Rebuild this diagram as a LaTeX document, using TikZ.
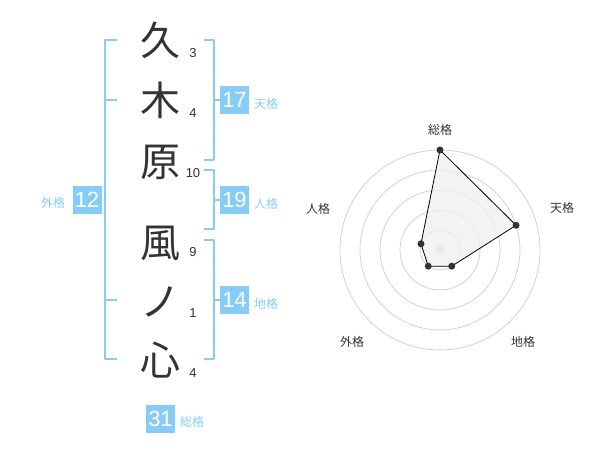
\documentclass[tikz,border=0pt]{standalone}
\usepackage{fontspec}
\setmainfont{Liberation Sans}
\newfontfamily\cjk{Noto Sans CJK JP}
\usetikzlibrary{calc}
\definecolor{c88ccf8}{rgb}{0.53,0.8,0.97}
\definecolor{c333333}{rgb}{0.2,0.2,0.2}
\definecolor{cccccc}{rgb}{0.8,0.8,0.8}
\definecolor{eeeeee}{rgb}{0.94,0.94,0.94}
\tikzset{
  kanji/.style={text=c333333,font=\cjk\fontsize{40}{40}\selectfont,inner sep=0pt},
  strk/.style={text=c333333,font=\fontsize{13}{13}\selectfont,inner sep=0pt},
  kakubox/.style={fill=c88ccf8,text=white,minimum width=29,minimum height=28,inner sep=0pt,font=\fontsize{22}{22}\selectfont},
  kakulbl/.style={text=c88ccf8,font=\cjk\fontsize{12}{12}\selectfont,inner sep=0pt},
  bracket/.style={line width=2pt,color=c88ccf8,line cap=rect},
  axislbl/.style={text=c333333,font=\cjk\fontsize{12}{12}\selectfont,inner sep=0pt}
}
\begin{document}
\begin{tikzpicture}[line cap=round,line join=round,x=1pt,y=1pt]
\clip(0,0) rectangle (600,470);
% name
\draw (160,430) node[kanji] (k1) {久};
\draw (160,370) node[kanji] (k2) {木};
\draw (160,308) node[kanji] (k3) {原};
\draw (160,227) node[kanji] (k4) {風};
\draw (160,168) node[kanji] (k5) {ノ};
\draw (160,110) node[kanji] (k6) {心};
% strokes
\draw (193,417) node[strk] (s1) {3};
\draw (193,357) node[strk] (s2) {4};
\draw (193,297) node[strk] (s3) {10};
\draw (193,218) node[strk] (s4) {9};
\draw (193,157) node[strk] (s5) {1};
\draw (193,97) node[strk] (s6) {4};
% brackets
\draw [bracket] (116,430)-- (105,430)-- (105,111)-- (116,111);
\draw [bracket] (105,370)-- (116,370);
\draw [bracket] (105,170)-- (116,170);
\draw [bracket] (205,430)-- (214,430)-- (214,310)-- (205,310);
\draw [bracket] (205,300)-- (214,300)-- (214,241)-- (205,241);
\draw [bracket] (205,230)-- (214,230)-- (214,111)-- (205,111);
% kaku
\draw (87,270) node[kakubox] (gai) {12};
\draw (53,267) node[kakulbl] (gail) {外格};
\draw (234.5,370) node[kakubox] (ten) {17};
\draw (266,366) node[kakulbl] (tenl) {天格};
\draw (234.5,270) node[kakubox] (jin) {19};
\draw (266,266) node[kakulbl] (jinl) {人格};
\draw (234.5,170) node[kakubox] (chi) {14};
\draw (266,166) node[kakulbl] (chil) {地格};
\draw (160.5,51) node[kakubox] (sou) {31};
\draw (192,48) node[kakulbl] (soul) {総格};
\draw [bracket,line cap=butt] (214,370)-- (ten.west);
\draw [bracket,line cap=butt] (214,270)-- (jin.west);
\draw [bracket,line cap=butt] (214,170)-- (chi.west);
% radar
\coordinate (o) at (440,220);
\draw [line width=0.7pt,color=cccccc] (o) circle (20);
\draw [line width=0.7pt,color=cccccc] (o) circle (40);
\draw [line width=0.7pt,color=cccccc] (o) circle (60);
\draw [line width=0.7pt,color=cccccc] (o) circle (80);
\draw [line width=0.7pt,color=cccccc] (o) circle (100);
\fill [color=cccccc] (o) circle (4);
\coordinate (psou) at ($(o)+(90:100)$);
\coordinate (pten) at ($(o)+(18:80)$);
\coordinate (pchi) at ($(o)+(-54:20)$);
\coordinate (pgai) at ($(o)+(-126:20)$);
\coordinate (pjin) at ($(o)+(162:20)$);
\draw [line width=0.8pt,color=black,fill=eeeeee,fill opacity=0.8] (psou)-- (pten)-- (pchi)-- (pgai)-- (pjin)-- cycle;
\fill [color=c333333] (psou) circle (3.5);
\fill [color=c333333] (pten) circle (3.5);
\fill [color=c333333] (pchi) circle (3.5);
\fill [color=c333333] (pgai) circle (3.5);
\fill [color=c333333] (pjin) circle (3.5);
\draw (440,340) node[axislbl] (asou) {総格};
\draw (562,262) node[axislbl] (aten) {天格};
\draw (523,128) node[axislbl] (achi) {地格};
\draw (352,128) node[axislbl] (agai) {外格};
\draw (318,261) node[axislbl] (ajin) {人格};
\end{tikzpicture}
\end{document}
